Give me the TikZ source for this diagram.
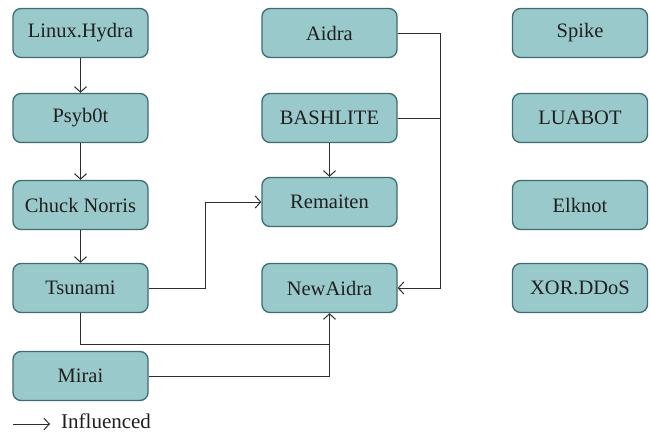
\documentclass[tikz,border=0pt]{standalone}
\usepackage{fontspec}
\setmainfont{Liberation Serif}
\usetikzlibrary{arrows.meta}
\definecolor{boxfill}{RGB}{154,201,203}
\definecolor{boxline}{RGB}{62,108,112}
\definecolor{conn}{RGB}{45,45,45}
\begin{document}
\begin{tikzpicture}[x=1pt,y=-1pt,
  mbox/.style={draw=boxline,fill=boxfill,line width=1.3pt,rounded corners=8pt,
    minimum width=135pt,minimum height=49pt,inner sep=0pt,
    font=\fontsize{20.5}{24}\selectfont,text=black!88},
  link/.style={draw=conn,line width=1pt,-{Straight Barb[length=5.5pt,width=12pt,line width=1pt]}},
  plain/.style={draw=conn,line width=1pt}]
\useasboundingbox (0,0) rectangle (650,434);
\node[mbox] (hydra) at (80.5,33) {Linux.Hydra};
\node[mbox] (psy) at (80.5,118) {Psyb0t};
\node[mbox] (chuck) at (80.5,205) {Chuck Norris};
\node[mbox] (tsu) at (80.5,288) {Tsunami};
\node[mbox] (mirai) at (80.5,376) {Mirai};
\node[mbox] (aidra) at (329.5,33) {Aidra};
\node[mbox] (bash) at (329.5,118) {BASHLITE};
\node[mbox] (rem) at (329.5,202) {Remaiten};
\node[mbox] (new) at (329.5,288) {NewAidra};
\node[mbox] (spike) at (580,33) {Spike};
\node[mbox] (lua) at (580,118) {LUABOT};
\node[mbox] (elk) at (580,205) {Elknot};
\node[mbox] (xor) at (580,288) {XOR.DDoS};
\coordinate (jA) at (440,33);
\coordinate (jB) at (440,118);
\coordinate (jT) at (205,288);
\coordinate (jL) at (80.5,344);
\coordinate (jM) at (329.5,344);
\coordinate (jR) at (329.5,376);
\draw[link] (hydra) -- (psy);
\draw[link] (psy) -- (chuck);
\draw[link] (chuck) -- (tsu);
\draw[link] (bash) -- (rem);
\draw[link] (aidra.east) -- (jA) |- (new.east);
\draw[plain] (bash.east) -- (jB);
\draw[link] (tsu.east) -- (jT) |- (rem.west);
\draw[link] (tsu.south) -- (jL) -- (jM) -- (new.south);
\draw[plain] (mirai.east) -- (jR) -- (jM);
\coordinate (la) at (13,424);
\coordinate (lb) at (50,424);
\draw[link] (la) -- (lb);
\node[anchor=west,font=\fontsize{21}{24}\selectfont,text=black!88,inner sep=0pt] (leg) at (61,421) {Influenced};
\end{tikzpicture}
\end{document}
